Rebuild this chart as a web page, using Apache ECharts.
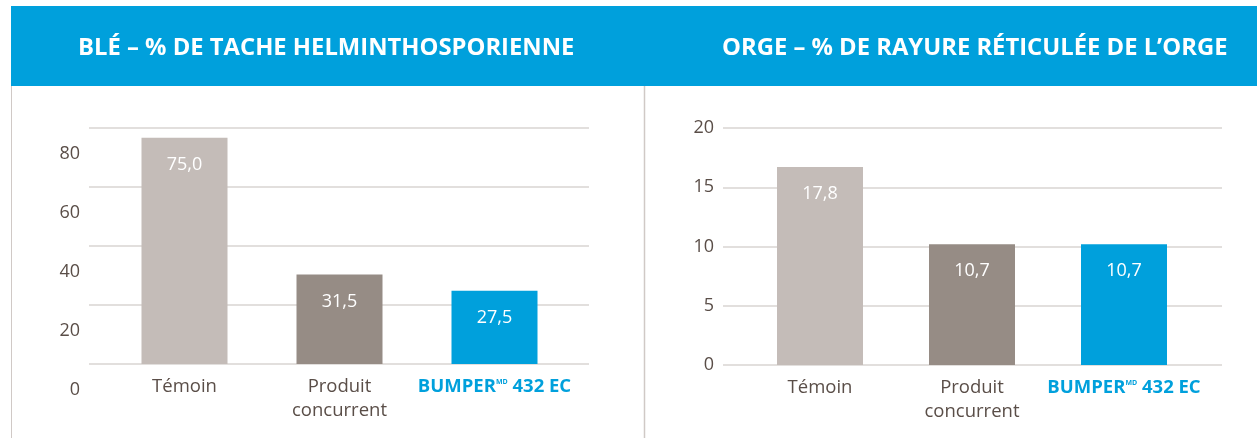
<!DOCTYPE html>
<html>
<head>
<meta charset="utf-8">
<title>Blé et orge</title>
<script src="https://cdn.jsdelivr.net/npm/echarts@6/dist/echarts.min.js"></script>
<style>
  html, body { margin: 0; padding: 0; background: #fff; }
  #main { width: 1257px; height: 438px; }
</style>
</head>
<body>
<div id="main"></div>
<script>
// --- données ---
var categories = ['Témoin', 'Produit\nconcurrent', 'BUMPER'];
var bleHeights = [76.7, 30.3, 24.8];      // hauteur
var bleLabels = ['75,0', '31,5', '27,5'];  // valeurs imprimées
var orgeHeights = [16.7, 10.2, 10.2];
var orgeLabels = ['17,8', '10,7', '10,7'];
var bleTicks = [0, 80, 20];   // min, max, interval
var orgeTicks = [0, 20, 5];
var titles = ['BLÉ – % DE TACHE HELMINTHOSPORIENNE', 'ORGE – % DE RAYURE RÉTICULÉE DE L’ORGE'];

var BLUE = '#00a0dc';
var barColors = ['#c4bcb8', '#968c85', BLUE];
var TXT = '#5a4e48';
var FONT = '"Open Sans", Lato, sans-serif';

var chart = echarts.init(document.getElementById('main'));

function catLabel(v) {
  if (v === 'BUMPER') return '{b|BUMPER}{sup|MD}{b| 432 EC}';
  return v;
}

function barSeries(idx, heights, labels) {
  return {
    type: 'bar',
    xAxisIndex: idx, yAxisIndex: idx,
    barWidth: 86,
    data: heights.map(function (h, i) {
      return { value: h, itemStyle: { color: barColors[i] } };
    }),
    label: {
      show: true, position: 'insideTop', distance: 18,
      color: '#fff', fontSize: 18, fontFamily: FONT,
      formatter: function (p) { return labels[p.dataIndex]; }
    },
    silent: true
  };
}

var grids = [
  { left: 89, width: 500, top: 128, bottom: 74 },   // grille blé
  { left: 107, width: 465, top: 128, bottom: 74 },  // barres blé
  { left: 723, width: 499, top: 128, bottom: 73 },  // grille orge
  { left: 744, width: 456, top: 128, bottom: 73 },  // barres orge
  { left: 89, width: 500, top: 154, bottom: 48 }    // étiquettes blé (décalées)
];

var yLabel = { color: TXT, fontSize: 18, fontFamily: FONT, margin: 9 };

function valueAxis(ticks, labels, lines) {
  return {
    type: 'value', min: ticks[0], max: ticks[1], interval: ticks[2],
    axisLine: { show: false }, axisTick: { show: false },
    axisLabel: labels ? yLabel : { show: false },
    splitLine: lines ? { lineStyle: { color: '#d9d4d2', width: 1.5 } } : { show: false }
  };
}

var catAxis = {
  type: 'category', data: categories,
  axisLine: { show: false }, axisTick: { show: false },
  axisLabel: {
    interval: 0, margin: 11, color: TXT, fontSize: 18.5, lineHeight: 24, fontFamily: FONT,
    formatter: catLabel,
    rich: {
      b: { color: BLUE, fontWeight: 'bold', fontSize: 18.5, fontFamily: FONT },
      sup: { color: BLUE, fontWeight: 'bold', fontSize: 7, fontFamily: FONT, padding: [0, 0, 11, 0] }
    }
  }
};

var titleStyle = { color: '#fff', fontSize: 23.8, fontWeight: 'bold', fontFamily: FONT };

chart.setOption({
  animation: false,
  textStyle: { fontFamily: FONT },
  title: [
    { text: titles[0], left: 78, top: 36, padding: 0, textStyle: titleStyle },
    { text: titles[1], left: 722, top: 36, padding: 0, textStyle: titleStyle }
  ],
  graphic: [
    { type: 'rect', shape: { x: 11, y: 6, width: 1246, height: 80 }, style: { fill: BLUE }, z: -1 },
    { type: 'line', shape: { x1: 11.5, y1: 86, x2: 11.5, y2: 438 }, style: { stroke: '#d0c9c6', lineWidth: 1 } },
    { type: 'line', shape: { x1: 644.5, y1: 86, x2: 644.5, y2: 438 }, style: { stroke: '#d0c9c6', lineWidth: 1.5 } }
  ],
  grid: grids,
  xAxis: [
    { type: 'value', gridIndex: 0, show: false },
    Object.assign({ gridIndex: 1 }, catAxis),
    { type: 'value', gridIndex: 2, show: false },
    Object.assign({ gridIndex: 3 }, catAxis),
    { type: 'value', gridIndex: 4, show: false }
  ],
  yAxis: [
    Object.assign({ gridIndex: 0 }, valueAxis(bleTicks, false, true)),
    Object.assign({ gridIndex: 1 }, valueAxis(bleTicks, false, false)),
    Object.assign({ gridIndex: 2 }, valueAxis(orgeTicks, true, true)),
    Object.assign({ gridIndex: 3 }, valueAxis(orgeTicks, false, false)),
    Object.assign({ gridIndex: 4 }, valueAxis(bleTicks, true, false))
  ],
  series: [
    barSeries(1, bleHeights, bleLabels),
    barSeries(3, orgeHeights, orgeLabels)
  ]
});
</script>
</body>
</html>
